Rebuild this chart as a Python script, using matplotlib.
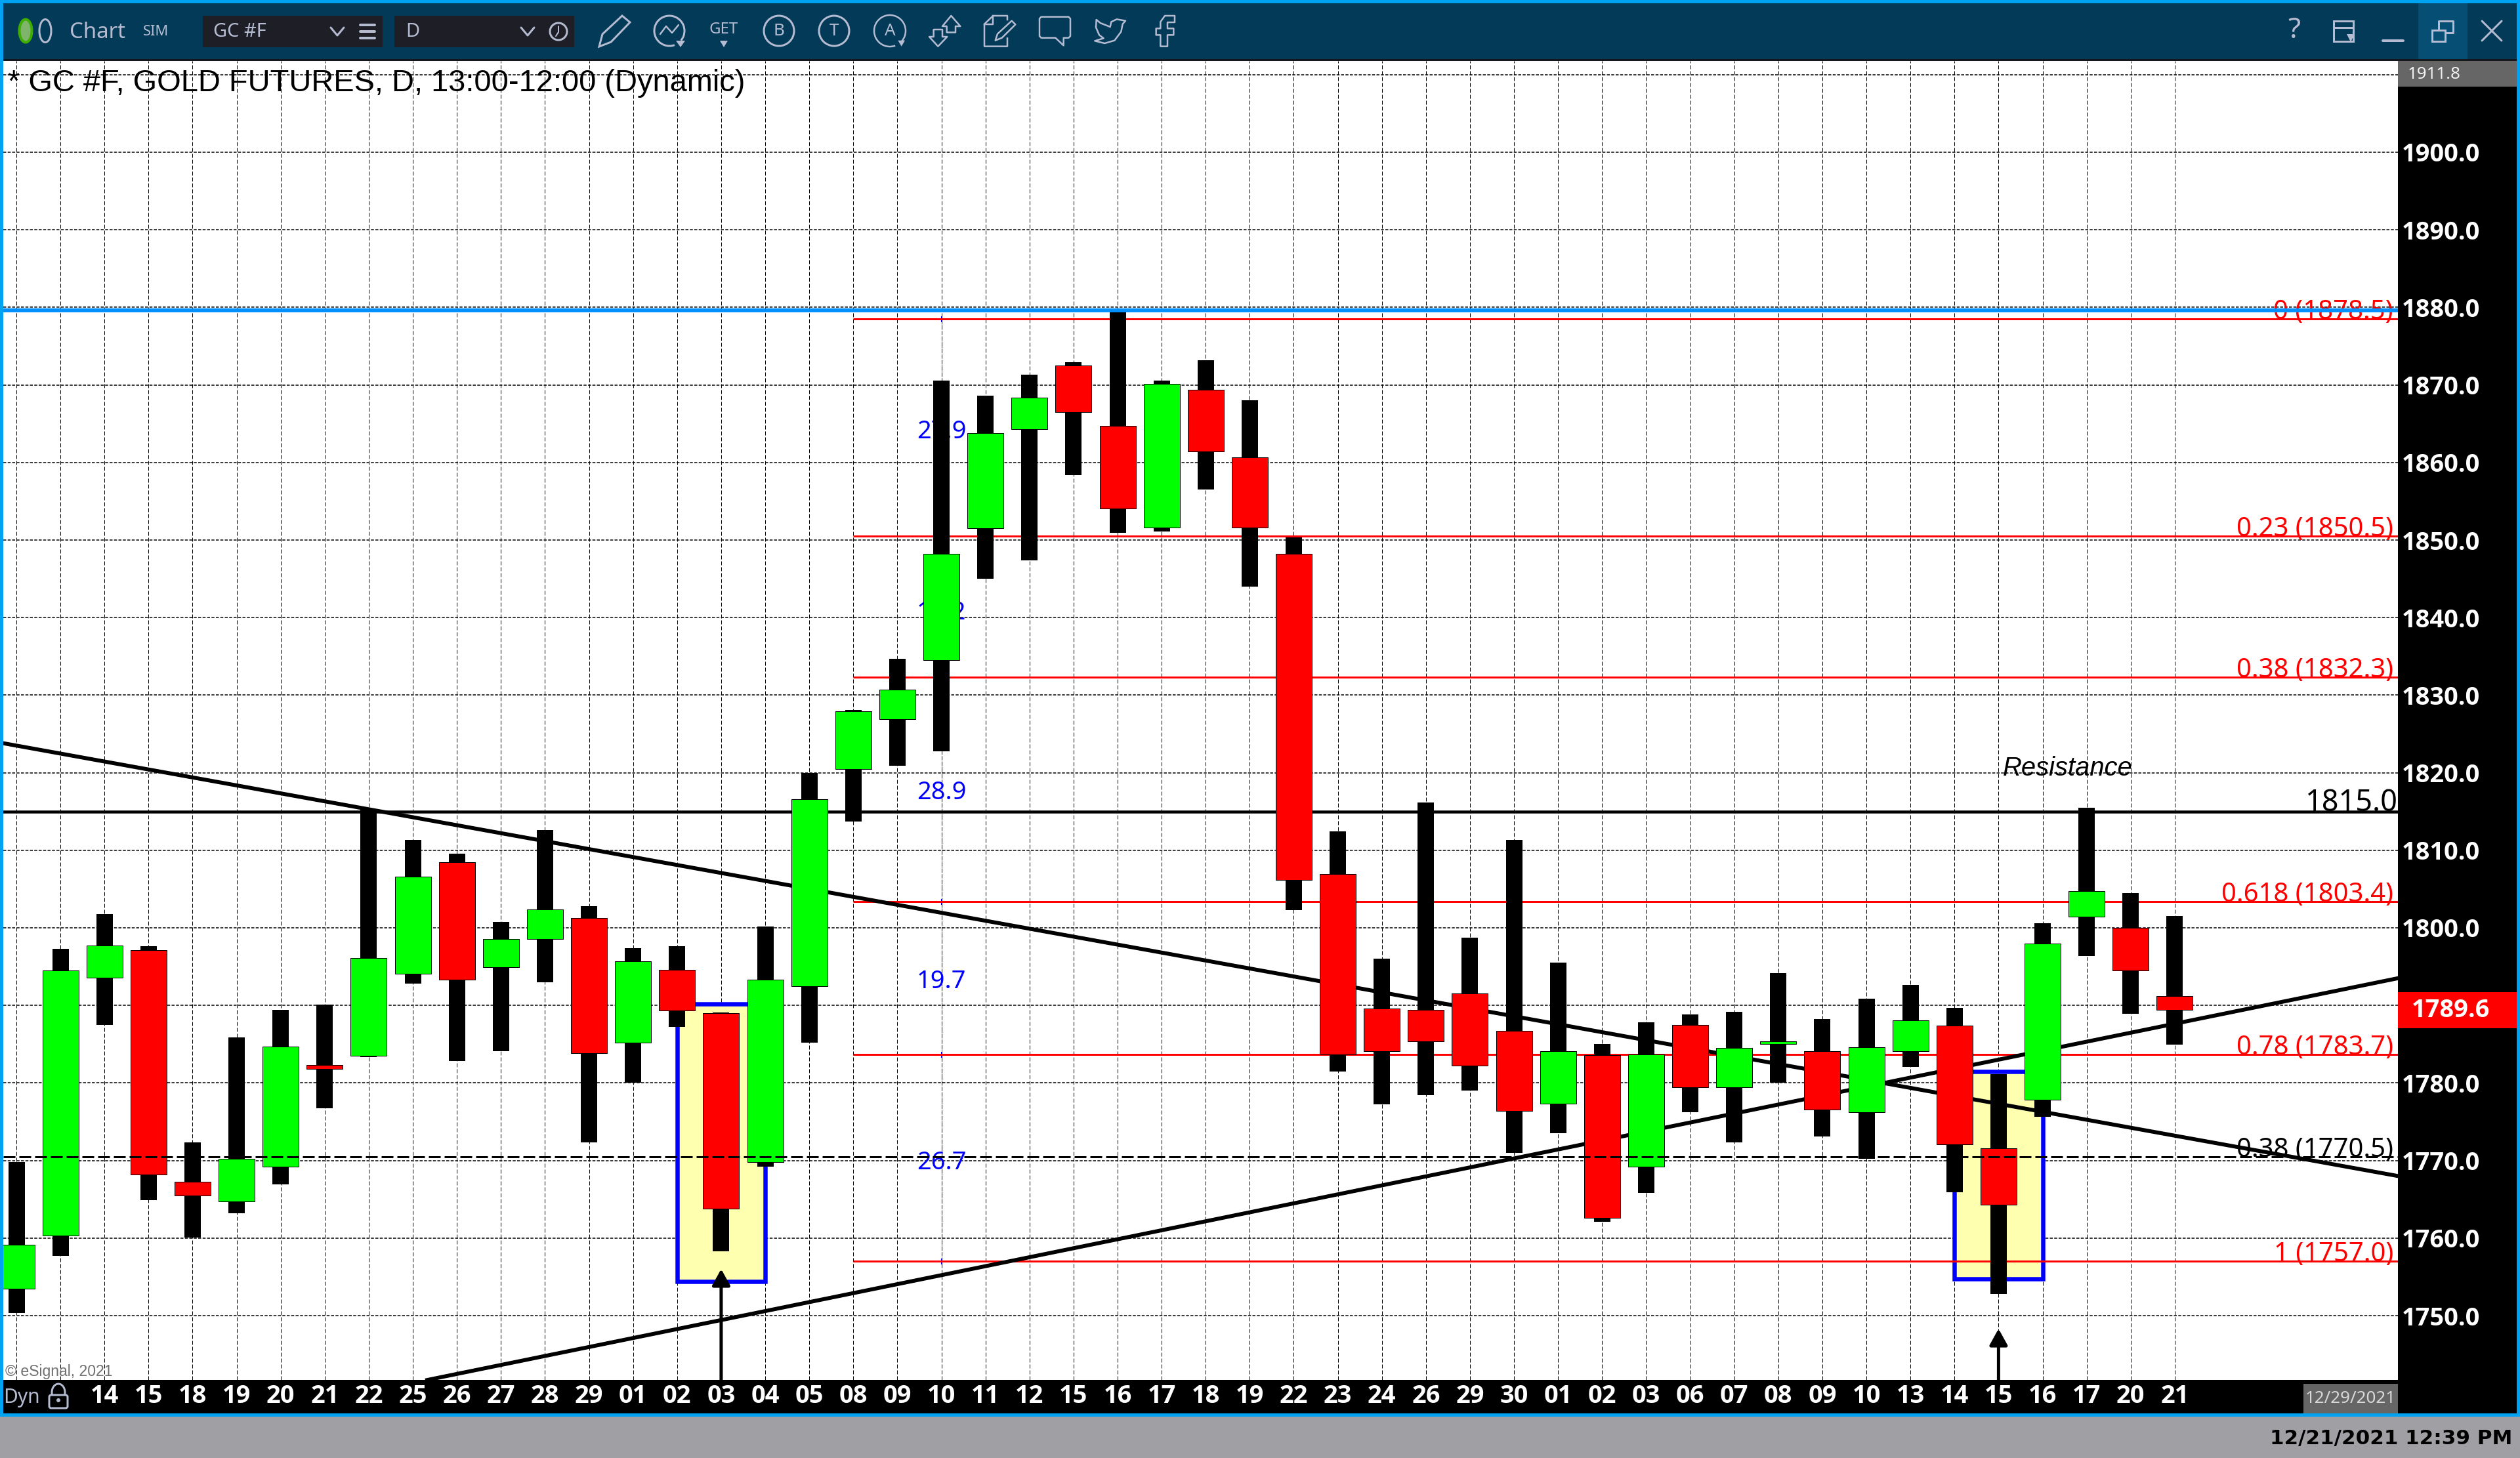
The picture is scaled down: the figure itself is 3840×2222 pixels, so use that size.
# -*- coding: utf-8 -*-
"""GC #F daily candles, eSignal style screenshot."""
import matplotlib
matplotlib.use("Agg")
import matplotlib.pyplot as plt
from matplotlib.patches import Rectangle, Circle, Polygon, Ellipse, Arc, FancyBboxPatch

W, H = 3840, 2222

# candles, one per session
opens = [1753.5, 1760.3, 1793.6, 1797.1, 1767.3, 1764.7, 1769.2, 1782.3, 1783.5, 1794.1,
         1808.5, 1794.9, 1798.6, 1801.3, 1785.2, 1794.6, 1789.0, 1769.8, 1792.5, 1820.5,
         1826.9, 1834.5, 1851.5, 1864.3, 1872.5, 1864.7, 1851.6, 1869.4, 1860.7, 1848.2,
         1806.9, 1789.6, 1789.4, 1791.5, 1786.7, 1777.3, 1783.6, 1769.2, 1787.5, 1779.4,
         1785.0, 1784.1, 1776.2, 1784.1, 1787.4, 1771.6, 1777.8, 1801.4, 1800.0, 1791.2]
highs = [1769.8, 1797.3, 1801.8, 1797.6, 1772.3, 1785.9, 1789.4, 1790.1, 1815.3, 1811.3,
         1809.6, 1800.8, 1812.6, 1802.8, 1797.4, 1797.6, 1789.1, 1800.2, 1820.0, 1828.1,
         1834.7, 1870.6, 1868.6, 1871.3, 1872.9, 1879.4, 1870.6, 1873.2, 1868.0, 1850.3,
         1812.4, 1796.0, 1816.2, 1798.7, 1811.3, 1795.5, 1785.0, 1787.8, 1788.8, 1789.2,
         1794.2, 1788.2, 1790.9, 1792.6, 1789.7, 1781.1, 1800.6, 1815.5, 1804.5, 1801.5]
lows = [1750.3, 1757.7, 1787.5, 1764.9, 1760.1, 1763.2, 1766.9, 1776.7, 1783.3, 1792.8,
        1782.8, 1784.1, 1793.0, 1772.3, 1780.0, 1787.2, 1758.3, 1769.2, 1785.2, 1813.7,
        1820.9, 1822.8, 1845.0, 1847.4, 1858.4, 1850.9, 1851.1, 1856.5, 1844.0, 1802.3,
        1781.5, 1777.2, 1778.4, 1779.0, 1771.0, 1773.5, 1762.1, 1765.8, 1776.2, 1772.3,
        1780.0, 1773.1, 1770.2, 1782.1, 1765.9, 1752.8, 1775.6, 1796.4, 1788.9, 1784.9]
closes = [1759.1, 1794.5, 1797.7, 1768.2, 1765.5, 1770.2, 1784.7, 1781.8, 1796.1, 1806.6,
          1793.3, 1798.6, 1802.4, 1783.8, 1795.7, 1789.3, 1763.8, 1793.3, 1816.6, 1827.9,
          1830.7, 1848.2, 1863.8, 1868.4, 1866.5, 1854.1, 1870.1, 1861.4, 1851.6, 1806.2,
          1783.7, 1784.1, 1785.4, 1782.2, 1776.4, 1784.1, 1762.6, 1783.7, 1779.4, 1784.5,
          1785.4, 1776.6, 1784.6, 1788.1, 1772.1, 1764.3, 1798.0, 1804.7, 1794.5, 1789.4]
day_labels = ["", "", "14", "15", "18", "19", "20", "21", "22", "25", "26", "27", "28", "29",
              "01", "02", "03", "04", "05", "08", "09", "10", "11", "12", "15", "16", "17",
              "18", "19", "22", "23", "24", "26", "29", "30", "01", "02", "03", "06", "07",
              "08", "09", "10", "13", "14", "15", "16", "17", "20", "21"]
price_ticks = [1750, 1760, 1770, 1780, 1790, 1800, 1810, 1820, 1830, 1840, 1850, 1860,
               1870, 1880, 1890, 1900]
hidden_tick = 1790  # sits under the last-price box

fib_prices = [1878.5, 1850.5, 1832.3, 1803.4, 1783.7, 1757.0]
fib_labels = ["0 (1878.5)", "0.23 (1850.5)", "0.38 (1832.3)", "0.618 (1803.4)",
              "0.78 (1783.7)", "1 (1757.0)"]
gap_labels = ["27.9", "18.2", "28.9", "19.7", "26.7"]
gap_prices = [1864.0, 1840.6, 1817.4, 1793.1, 1769.7]

BLUE_EDGE = "#00A2F2"
BAR = "#023A57"
ICON = "#B5BCD2"
UI = "Noto Sans"
AXIS_FONT = "Open Sans"

# pixel -> data mapping of the price pane
PX_PER_BAR = 67.12
PX_PER_UNIT = 11.82


def xd(px):
    return (px - 25) / PX_PER_BAR


def yd(py):
    return 1900 - (py - 232) / PX_PER_UNIT


def pt(px):
    return px * 0.72


def icon_pts(points):
    # icon outlines were traced on a 3x crop starting at (1300, 10)
    return [(x / 3 + 1300, y / 3 + 10) for x, y in points]


def draw_chrome(bg):
    bg.set_xlim(0, W)
    bg.set_ylim(H, 0)
    bg.axis("off")
    rects = [
        (0, 0, W, 2222, "#A09FA3"),
        (0, 0, W, 2159, BLUE_EDGE),
        (5, 5, 3830, 85, BAR),
        (5, 90, 3830, 4, "#14181C"),
        (3685, 5, 75, 85, "#064E73"),
        (5, 2103, 3830, 51, "black"),
        (3654, 93, 181, 2061, "black"),
        (3654, 93, 181, 39, "#666666"),
        (3654, 1512, 181, 55, "#FF0000"),
        (3510, 2109, 144, 45, "#666666"),
        (309, 24, 274, 48, "#1E1F26"),
        (601, 24, 274, 48, "#1E1F26"),
    ]
    for x, y, w, h, c in rects:
        bg.add_patch(Rectangle((x, y), w, h, fc=c, ec="none"))

    def txt(x, y, s, size, color=ICON, **kw):
        kw.setdefault("family", UI)
        kw.setdefault("ha", "center")
        bg.text(x, y, s, fontsize=pt(size), color=color, va="center", **kw)

    def line(xs, ys, lw=3):
        bg.plot(xs, ys, color=ICON, lw=pt(lw), solid_capstyle="round")

    def ring(x, y, r=23):
        bg.add_patch(Circle((x, y), r, fc="none", ec=ICON, lw=pt(3)))

    def outline(points):
        bg.add_patch(Polygon(icon_pts(points), fc="none", ec=ICON, lw=pt(2.5), joinstyle="round"))

    # run indicator + labels
    bg.add_patch(Ellipse((39, 47), 19, 35, fc="#7FB56A", ec="#3FAE00", lw=pt(4)))
    bg.add_patch(Ellipse((69, 47), 18, 35, fc="none", ec=ICON, lw=pt(3)))
    txt(106, 49, "Chart", 33, ha="left")
    txt(218, 48, "SIM", 22, ha="left")
    txt(325, 49, "GC #F", 29, ha="left")
    txt(618, 49, "D", 29, ha="left")
    for cx in (514, 804):
        line([cx - 10, cx, cx + 10], [42, 54, 42])
    for yy in (38, 48, 58):
        line([549, 571], [yy, yy], lw=4)
    ring(851, 48, 13)
    line([851, 851, 847], [40, 49, 55], lw=2)

    # drawing tools
    bg.add_patch(Polygon([(913, 71), (918, 52), (948, 24), (960, 34), (931, 64)],
                         fc="none", ec=ICON, lw=pt(3)))
    bg.add_patch(Arc((1020, 47), 46, 46, theta1=70, theta2=400, ec=ICON, lw=pt(3)))
    line([1006, 1015, 1024, 1034], [52, 40, 50, 38], lw=2.5)
    bg.add_patch(Polygon([(1030, 62), (1044, 62), (1037, 72)], fc=ICON, ec="none"))
    txt(1103, 45, "GET", 24, weight="bold")
    bg.add_patch(Polygon([(1097, 62), (1109, 62), (1103, 72)], fc=ICON, ec="none"))
    ring(1187, 47)
    txt(1187, 48, "B", 26)
    ring(1271, 47)
    txt(1271, 48, "T", 26)
    bg.add_patch(Arc((1356, 47), 48, 48, theta1=70, theta2=400, ec=ICON, lw=pt(2.5)))
    txt(1356, 48, "A", 26)
    bg.add_patch(Polygon(icon_pts([(205, 155), (237, 155), (221, 182)]), fc=ICON, ec="none"))
    outline([(448, 42), (490, 90), (468, 90), (468, 118), (428, 118), (428, 90), (408, 90)])
    outline([(368, 105), (408, 105), (408, 138), (430, 138), (388, 182), (348, 138), (368, 138)])
    bg.plot(*zip(*icon_pts([(705, 60), (705, 42), (640, 42), (600, 80), (600, 182), (705, 182),
                            (705, 145)])), color=ICON, lw=pt(2.5))
    bg.plot(*zip(*icon_pts([(640, 42), (640, 80), (600, 80)])), color=ICON, lw=pt(2.5))
    outline([(650, 155), (660, 125), (725, 65), (742, 82), (680, 143)])
    outline([(860, 47), (985, 47), (993, 55), (993, 135), (985, 143), (962, 143), (962, 178),
             (925, 143), (860, 143), (852, 135), (852, 55)])
    outline([(1112, 60), (1130, 75), (1175, 93), (1180, 70), (1205, 58), (1245, 65), (1232, 80),
             (1225, 115), (1195, 155), (1150, 168), (1105, 157), (1145, 145), (1125, 130),
             (1110, 95)])
    outline([(1405, 182), (1405, 130), (1385, 130), (1385, 100), (1405, 100), (1405, 70),
             (1425, 42), (1470, 42), (1470, 72), (1437, 72), (1437, 100), (1465, 100),
             (1465, 130), (1437, 130), (1437, 182)])

    # window buttons
    txt(3496, 47, "?", 44)
    bg.add_patch(Rectangle((3556, 32), 30, 31, fc="none", ec=ICON, lw=pt(3)))
    line([3556, 3586], [42, 42])
    bg.add_patch(Polygon([(3576, 52), (3588, 52), (3582, 64)], fc=ICON, ec="none"))
    line([3631, 3662], [62, 62], lw=4)
    bg.add_patch(Rectangle((3706, 46), 20, 17, fc="none", ec=ICON, lw=pt(3)))
    line([3716, 3716, 3738, 3738, 3727], [44, 32, 32, 50, 50])
    line([3782, 3812], [32, 62])
    line([3812, 3782], [32, 62])

    # axis corner texts
    bg.add_patch(Rectangle((3610, 97), 39, 38, fc="#444444", ec="#BBBBBB", lw=pt(1)))
    bg.add_patch(Rectangle((3620, 106), 18, 14, fc="none", ec="#DDDDDD", lw=pt(2)))
    bg.add_patch(Rectangle((3616, 115), 14, 12, fc="#888888", ec="#DDDDDD", lw=pt(2)))
    txt(3669, 113, "1911.8", 26, color="#F0F0F0", ha="left")
    txt(3734, 1540, "1789.6", 38, color="white", weight="bold", family=AXIS_FONT)
    txt(3582, 2132, "12/29/2021", 26, color="#D8D8D8")
    txt(3828, 2192, "12/21/2021 12:39 PM", 31, color="black", ha="right",
        family="DejaVu Sans", weight="bold")
    txt(5, 2130, "Dyn", 30, ha="left", weight="bold")
    bg.add_patch(Ellipse((89, 2122), 20, 26, fc="none", ec=ICON, lw=pt(3)))
    bg.add_patch(FancyBboxPatch((75, 2126), 28, 20, boxstyle="round,pad=0,rounding_size=3",
                                fc="black", ec=ICON, lw=pt(3)))
    bg.add_patch(Circle((89, 2134), 3, fc=ICON, ec="none"))


def draw_chart(ax):
    ax.set_xlim(xd(5), xd(3654))
    ax.set_ylim(yd(2103), yd(93))
    for s in ax.spines.values():
        s.set_visible(False)
    ax.yaxis.tick_right()

    idx = list(range(len(opens)))
    ax.set_xticks(idx)
    ax.set_xticklabels(day_labels, family=AXIS_FONT, fontsize=pt(38), fontweight="bold",
                       color="white")
    ax.set_yticks(price_ticks)
    ax.set_yticklabels(["" if p == hidden_tick else f"{p:.1f}" for p in price_ticks],
                       family=AXIS_FONT, fontsize=pt(38), fontweight="bold", color="white")
    ax.tick_params(axis="both", length=0)
    ax.tick_params(axis="x", pad=pt(6))
    ax.tick_params(axis="y", pad=pt(6))

    ax.set_axisbelow(True)
    ax.grid(axis="x", color="black", lw=pt(1), ls=(0, (6, 3)))
    ax.grid(axis="y", color="black", lw=pt(1.5), ls=(0, (3, 1.5)))
    ax.axhline(1910, color="black", lw=pt(1.5), ls=(0, (3, 1.5)), zorder=0.5)

    # highlighted reversal boxes
    for x0, x1, top, bot in ((15, 17, 1790.2, 1754.4), (44, 46, 1781.5, 1754.7)):
        ax.add_patch(Rectangle((x0, bot), x1 - x0, top - bot, fc="#FFFFB0", ec="#0000FF",
                               lw=pt(6.5), zorder=1))

    # retracement levels
    for p, lab in zip(fib_prices, fib_labels):
        ax.plot([19, xd(3654)], [p, p], color="#FF0000", lw=pt(3), zorder=2,
                solid_capstyle="butt")
        ax.text(xd(3647), p, lab, ha="right", va="baseline", color="#FF0000", family=UI,
                fontsize=pt(40), zorder=2.5)
    ax.vlines(21, 1757, 1878.5, color="#0000FF", lw=pt(1), ls=(0, (2, 2)), zorder=1.5)
    ax.plot([21] * 4, [1878.5, 1803.4, 1783.7, 1757], ls="none", marker="+", ms=pt(9),
            mew=pt(2), color="#0000FF", zorder=1.5)
    for p, lab in zip(gap_prices, gap_labels):
        ax.text(21, p, lab, ha="center", va="center", color="#0000FF", family=UI,
                fontsize=pt(38), zorder=1.6)

    # trend lines and fixed levels
    ax.plot([xd(5), xd(3654)], [1823.8, 1768.0], color="black", lw=pt(6), zorder=2.2)
    ax.plot([xd(651), xd(3654)], [1741.7, 1793.5], color="black", lw=pt(6), zorder=2.2)
    ax.axhline(1815, color="black", lw=pt(4.5), zorder=2.2)
    ax.axhline(1879.6, color="#0090FF", lw=pt(6), zorder=4)

    # candles
    for i, (o, h, l, c) in enumerate(zip(opens, highs, lows, closes)):
        ax.bar(i, h - l, bottom=l, width=25 / PX_PER_BAR, color="black", zorder=3)
        ax.bar(i, abs(c - o), bottom=min(o, c), width=55 / PX_PER_BAR,
               color="#00FF00" if c >= o else "#FF0000", edgecolor="black",
               linewidth=pt(1), zorder=3.1)

    ax.plot([xd(5), xd(3654)], [1770.5, 1770.5], color="black", lw=pt(3),
            ls=(0, (6, 2)), zorder=4)
    ax.text(xd(3647), 1770.5, "0.38 (1770.5)", ha="right", va="baseline", color="black",
            family=UI, fontsize=pt(40), zorder=4)

    # arrows
    for x, tip in ((16, 1756.0), (45, 1748.3)):
        ax.annotate("", xy=(x, tip), xytext=(x, yd(2103)), zorder=5,
                    arrowprops=dict(arrowstyle="-|>,head_length=15,head_width=8.3",
                                    mutation_scale=1, lw=pt(5), color="black",
                                    shrinkA=0, shrinkB=0))

    ax.text(xd(12), yd(127), "* GC #F, GOLD FUTURES, D, 13:00-12:00 (Dynamic)", ha="left",
            va="center", family="Liberation Sans", fontsize=pt(47), color="black", zorder=6)
    ax.text(xd(3052), yd(1171), "Resistance", ha="left", va="center",
            family="Liberation Sans", style="italic", fontsize=pt(40), color="black", zorder=6)
    ax.text(xd(3654), 1815.1, "1815.0", ha="right", va="baseline", family=UI, fontsize=pt(45),
            color="black", zorder=6)
    ax.text(xd(8), yd(2090), "© eSignal, 2021", ha="left", va="center",
            family="Liberation Sans", fontsize=pt(23), color="#707070", zorder=6)


def main():
    fig = plt.figure(figsize=(W / 100, H / 100), dpi=100, facecolor="white")
    bg = fig.add_axes([0, 0, 1, 1], zorder=0)
    draw_chrome(bg)
    ax = fig.add_axes([5 / W, 1 - 2103 / H, 3649 / W, 2010 / H], zorder=1, facecolor="white")
    draw_chart(ax)
    fig.savefig("out.png", dpi=100)


if __name__ == "__main__":
    main()
